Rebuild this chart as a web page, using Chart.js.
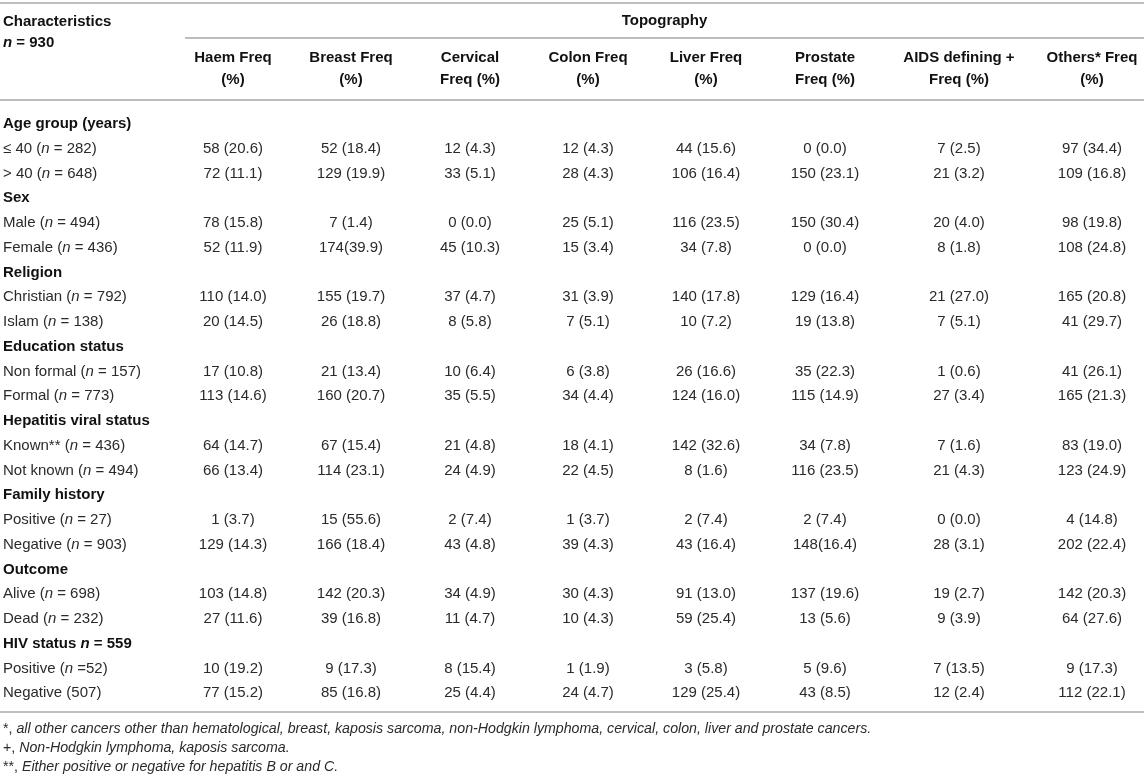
<!DOCTYPE html>
<html><head><meta charset="utf-8">
<script src="https://cdn.jsdelivr.net/npm/chart.js@4.4.1/dist/chart.umd.min.js"></script>
<style>html,body{margin:0;padding:0;background:#fff;overflow:hidden}#wrap{width:1144px;height:779px}</style>
</head><body><div id="wrap"><canvas id="c" width="1144" height="779"></canvas></div>
<script>
// ---------- DATA ----------
const columns = ["Haem Freq\n(%)", "Breast Freq\n(%)", "Cervical\nFreq (%)", "Colon Freq\n(%)", "Liver Freq\n(%)", "Prostate\nFreq (%)", "AIDS defining +\nFreq (%)", "Others* Freq\n(%)"];
const groups = ["Age group (years)", "Sex", "Religion", "Education status", "Hepatitis viral status", "Family history", "Outcome", "HIV status _n_ = 559"];
const categories = [
  "≤ 40 (_n_ = 282)", "> 40 (_n_ = 648)",
  "Male (_n_ = 494)", "Female (_n_ = 436)",
  "Christian (_n_ = 792)", "Islam (_n_ = 138)",
  "Non formal (_n_ = 157)", "Formal (_n_ = 773)",
  "Known** (_n_ = 436)", "Not known (_n_ = 494)",
  "Positive (_n_ = 27)", "Negative (_n_ = 903)",
  "Alive (_n_ = 698)", "Dead (_n_ = 232)",
  "Positive (_n_ =52)", "Negative (507)"
];
const haem     = ["58 (20.6)","72 (11.1)","78 (15.8)","52 (11.9)","110 (14.0)","20 (14.5)","17 (10.8)","113 (14.6)","64 (14.7)","66 (13.4)","1 (3.7)","129 (14.3)","103 (14.8)","27 (11.6)","10 (19.2)","77 (15.2)"];
const breast   = ["52 (18.4)","129 (19.9)","7 (1.4)","174(39.9)","155 (19.7)","26 (18.8)","21 (13.4)","160 (20.7)","67 (15.4)","114 (23.1)","15 (55.6)","166 (18.4)","142 (20.3)","39 (16.8)","9 (17.3)","85 (16.8)"];
const cervical = ["12 (4.3)","33 (5.1)","0 (0.0)","45 (10.3)","37 (4.7)","8 (5.8)","10 (6.4)","35 (5.5)","21 (4.8)","24 (4.9)","2 (7.4)","43 (4.8)","34 (4.9)","11 (4.7)","8 (15.4)","25 (4.4)"];
const colon    = ["12 (4.3)","28 (4.3)","25 (5.1)","15 (3.4)","31 (3.9)","7 (5.1)","6 (3.8)","34 (4.4)","18 (4.1)","22 (4.5)","1 (3.7)","39 (4.3)","30 (4.3)","10 (4.3)","1 (1.9)","24 (4.7)"];
const liver    = ["44 (15.6)","106 (16.4)","116 (23.5)","34 (7.8)","140 (17.8)","10 (7.2)","26 (16.6)","124 (16.0)","142 (32.6)","8 (1.6)","2 (7.4)","43 (16.4)","91 (13.0)","59 (25.4)","3 (5.8)","129 (25.4)"];
const prostate = ["0 (0.0)","150 (23.1)","150 (30.4)","0 (0.0)","129 (16.4)","19 (13.8)","35 (22.3)","115 (14.9)","34 (7.8)","116 (23.5)","2 (7.4)","148(16.4)","137 (19.6)","13 (5.6)","5 (9.6)","43 (8.5)"];
const aids     = ["7 (2.5)","21 (3.2)","20 (4.0)","8 (1.8)","21 (27.0)","7 (5.1)","1 (0.6)","27 (3.4)","7 (1.6)","21 (4.3)","0 (0.0)","28 (3.1)","19 (2.7)","9 (3.9)","7 (13.5)","12 (2.4)"];
const others   = ["97 (34.4)","109 (16.8)","98 (19.8)","108 (24.8)","165 (20.8)","41 (29.7)","41 (26.1)","165 (21.3)","83 (19.0)","123 (24.9)","4 (14.8)","202 (22.4)","142 (20.3)","64 (27.6)","9 (17.3)","112 (22.1)"];
const series = [haem, breast, cervical, colon, liver, prostate, aids, others];
const footnotes = [
  "*, _all other cancers other than hematological, breast, kaposis sarcoma, non-Hodgkin lymphoma, cervical, colon, liver and prostate cancers._",
  "+, _Non-Hodgkin lymphoma, kaposis sarcoma._",
  "**, _Either positive or negative for hepatitis B or and C._"
];

// ---------- LAYOUT / STYLE ----------
const L = {
  labelX: 3,
  colCenters: [233, 351, 470, 588, 706, 825, 959, 1092],
  rowStep: 24.75, firstRowPx: 124,
  font: '"Liberation Sans", Arial, Helvetica, sans-serif',
  size: 15, footSize: 14.2,
  text: '#2a2a2a', bold: '#111', rule: '#bdbdbd'
};
const yMin = -L.firstRowPx / L.rowStep;
const yMax = (779 - L.firstRowPx) / L.rowStep;
const u = px => (px - L.firstRowPx) / L.rowStep; // px -> row units (for header/footer decorations)

function rowOfCategory(k){ const g = Math.floor(k/2); return g*3 + 1 + (k%2); }

function fontStr(bold, italic, size){ return (italic?'italic ':'') + (bold?'bold ':'') + (size||L.size) + 'px ' + L.font; }
function drawRich(ctx, str, x, y, align, bold, color, size){
  const parts = str.split('_');
  let total = 0;
  parts.forEach((p,i)=>{ ctx.font = fontStr(bold, i%2===1, size); total += ctx.measureText(p).width; });
  let cx = align==='center' ? x - total/2 : (align==='right' ? x-total : x);
  ctx.fillStyle = color; ctx.textBaseline = 'middle'; ctx.textAlign = 'left';
  parts.forEach((p,i)=>{ ctx.font = fontStr(bold, i%2===1, size); ctx.fillText(p, cx, y); cx += ctx.measureText(p).width; });
}

const tablePlugin = {
  id: 'tablePlugin',
  afterDatasetsDraw(chart){
    const ctx = chart.ctx, xs = chart.scales.x, ys = chart.scales.y;
    ctx.save();
    // rules
    const rule = (x0, x1, yu) => { ctx.strokeStyle = L.rule; ctx.lineWidth = 2; ctx.beginPath(); const yy = Math.round(ys.getPixelForValue(yu)); ctx.moveTo(xs.getPixelForValue(x0), yy); ctx.lineTo(xs.getPixelForValue(x1), yy); ctx.stroke(); };
    rule(0, 1144, u(3));
    rule(185, 1144, u(38));
    rule(0, 1144, u(100));
    rule(0, 1144, u(712));
    // header
    drawRich(ctx, 'Characteristics', xs.getPixelForValue(L.labelX), ys.getPixelForValue(u(22)), 'left', true, L.bold);
    drawRich(ctx, '_n_ = 930', xs.getPixelForValue(L.labelX), ys.getPixelForValue(u(43)), 'left', true, L.bold);
    drawRich(ctx, 'Topography', xs.getPixelForValue((185+1144)/2), ys.getPixelForValue(u(21)), 'center', true, L.bold);
    columns.forEach((c, i) => {
      c.split('\n').forEach((line, j) => drawRich(ctx, line, xs.getPixelForValue(L.colCenters[i]), ys.getPixelForValue(u(j===0?58:80)), 'center', true, L.bold));
    });
    // group headers
    groups.forEach((g, i) => drawRich(ctx, g, xs.getPixelForValue(L.labelX), ys.getPixelForValue(i*3), 'left', true, L.bold));
    // category labels and cells from dataset elements
    chart.data.datasets.forEach((ds, di) => {
      const meta = chart.getDatasetMeta(di);
      meta.data.forEach((pt, k) => {
        drawRich(ctx, ds.texts[k], pt.x, pt.y, ds.align, false, L.text);
      });
    });
    // footnotes
    footnotes.forEach((f, i) => drawRich(ctx, f, xs.getPixelForValue(L.labelX), ys.getPixelForValue(u(729 + i*19)), 'left', false, L.text, L.footSize));
    ctx.restore();
  }
};

const datasets = [{
  label: 'Characteristics', align: 'left', texts: categories,
  data: categories.map((c, k) => ({x: L.labelX, y: rowOfCategory(k)})), pointRadius: 0
}].concat(series.map((vals, c) => ({
  label: columns[c].replace('\n',' '), align: 'center', texts: vals,
  data: vals.map((v, k) => ({x: L.colCenters[c], y: rowOfCategory(k)})), pointRadius: 0
})));

new Chart(document.getElementById('c'), {
  type: 'scatter',
  data: { datasets },
  options: {
    responsive: false, animation: false, devicePixelRatio: 1,
    layout: { padding: 0 },
    plugins: { legend: { display: false }, tooltip: { enabled: false } },
    scales: {
      x: { type: 'linear', min: 0, max: 1144, display: false },
      y: { type: 'linear', min: yMin, max: yMax, reverse: true, display: false }
    }
  },
  plugins: [tablePlugin]
});
</script></body></html>
